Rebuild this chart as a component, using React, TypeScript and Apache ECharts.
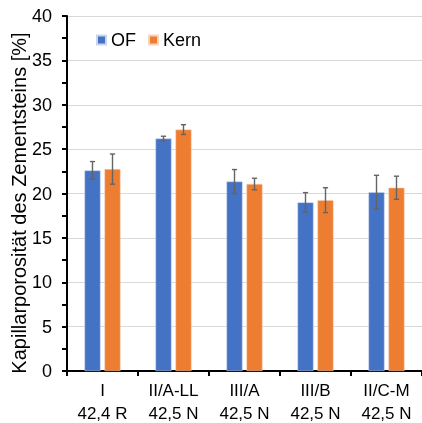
import React, { useEffect, useRef } from "react";
import * as echarts from "echarts";

const categories = ["I\n42,4 R", "II/A-LL\n42,5 N", "III/A\n42,5 N", "III/B\n42,5 N", "II/C-M\n42,5 N"];
const ofValues = [22.6, 26.2, 21.35, 19.0, 20.15];
const ofErrors = [1.0, 0.25, 1.35, 1.1, 1.9];
const kernValues = [22.75, 27.2, 21.07, 19.25, 20.65];
const kernErrors = [1.7, 0.55, 0.65, 1.4, 1.3];
const seriesNames = ["OF", "Kern"];
const yAxisName = "Kapillarporosität des Zementsteins [%]";

const BLUE = "#4472C4";
const ORANGE = "#ED7D31";
const FONT = "Liberation Sans, Arial, sans-serif";

function errorSeries(values: number[], errors: number[], offset: number) {
  const data = values.map((v, i) => [i, v, errors[i]]);
  return {
    type: "custom",
    silent: true,
    z: 5,
    data,
    renderItem: (params: any, api: any) => {
      const i = api.value(0);
      const v = api.value(1);
      const e = api.value(2);
      const hi = api.coord([i, v + e]);
      const lo = api.coord([i, v - e]);
      const x = hi[0] + offset;
      const cap = 2.6;
      const style = { stroke: "#646464", lineWidth: 1.4 };
      return {
        type: "group",
        children: [
          { type: "line", shape: { x1: x, y1: hi[1], x2: x, y2: lo[1] }, style },
          { type: "line", shape: { x1: x - cap, y1: hi[1], x2: x + cap, y2: hi[1] }, style },
          { type: "line", shape: { x1: x - cap, y1: lo[1], x2: x + cap, y2: lo[1] }, style },
        ],
      };
    },
  };
}

export default function App() {
  const ref = useRef<HTMLDivElement>(null);
  useEffect(() => {
    if (!ref.current) return;
    const chart = echarts.init(ref.current, null, { renderer: "svg" });
    chart.setOption({
      animation: false,
      textStyle: { fontFamily: FONT },
      grid: { left: 67, top: 16, right: 0, bottom: 52, containLabel: false, outerBoundsMode: "none" },
      legend: {
        data: seriesNames,
        left: 96,
        top: 31,
        padding: 0,
        itemWidth: 9,
        itemHeight: 9,
        itemGap: 12,
        icon: "rect",
        textStyle: { fontSize: 18, color: "#000", fontFamily: FONT },
      },
      graphic: [
        {
          type: "text",
          x: 19,
          y: 203,
          rotation: Math.PI / 2,
          style: {
            text: yAxisName,
            fill: "#000",
            fontSize: 20,
            fontFamily: FONT,
            align: "center",
            verticalAlign: "middle",
          },
        },
      ],
      xAxis: {
        type: "category",
        data: categories,
        axisLine: { lineStyle: { color: "#000", width: 2 } },
        axisTick: { show: true, alignWithLabel: false, length: 5, lineStyle: { color: "#000", width: 2 } },
        axisLabel: { color: "#000", fontSize: 17, lineHeight: 23, margin: 8, fontFamily: FONT, interval: 0 },
      },
      yAxis: {
        type: "value",
        min: 0,
        max: 40,
        interval: 5,
        axisLine: { show: true, lineStyle: { color: "#000", width: 2 } },
        axisTick: { show: true, length: 5, lineStyle: { color: "#000", width: 2 } },
        minorTick: { show: true, splitNumber: 2, length: 5, lineStyle: { color: "#000", width: 2 } },
        axisLabel: { color: "#000", fontSize: 18, margin: 15, fontFamily: FONT },
        splitLine: { show: true, lineStyle: { color: "#d9d9d9", width: 1 } },
      },
      series: [
        {
          name: seriesNames[0],
          type: "bar",
          data: ofValues,
          barWidth: 16,
          barGap: "25%",
          itemStyle: { color: BLUE, borderColor: "#c9d6ee", borderWidth: 0.5 },
        },
        {
          name: seriesNames[1],
          type: "bar",
          data: kernValues,
          barWidth: 16,
          barGap: "25%",
          itemStyle: { color: ORANGE, borderColor: "#f8d3bb", borderWidth: 0.5 },
        },
        errorSeries(ofValues, ofErrors, -10),
        errorSeries(kernValues, kernErrors, 10),
      ],
    });
    return () => chart.dispose();
  }, []);
  return <div ref={ref} style={{ position: "fixed", left: 0, top: 0, width: 422, height: 423 }} />;
}
